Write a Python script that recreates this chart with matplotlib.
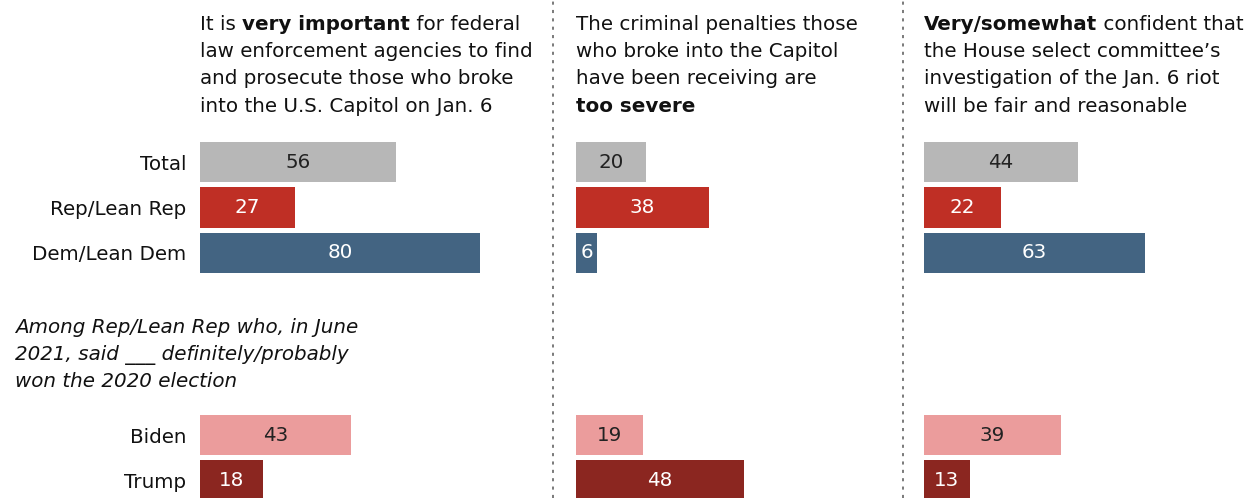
import numpy as np
import matplotlib
matplotlib.use("Agg")
import matplotlib.pyplot as plt

plt.rcParams['font.family'] = ['DejaVu Sans']

# data
groups = ["Total", "Rep/Lean Rep", "Dem/Lean Dem", "Biden", "Trump"]
rows = [0, 1, 2, 6, 7]
important = [56, 27, 80, 43, 18]
too_severe = [20, 38, 6, 19, 48]
confident = [44, 22, 63, 39, 13]
colors = ["#b7b7b7", "#bf2f25", "#436482", "#eb9c9c", "#8b2620"]
label_colors = ["#222222", "white", "white", "#222222", "white"]

headers = [
    [[("It is ", "normal"), ("very important", "bold"), (" for federal", "normal")],
     [("law enforcement agencies to find", "normal")],
     [("and prosecute those who broke", "normal")],
     [("into the U.S. Capitol on Jan. 6", "normal")]],
    [[("The criminal penalties those", "normal")],
     [("who broke into the Capitol", "normal")],
     [("have been receiving are", "normal")],
     [("too severe", "bold")]],
    [[("Very/somewhat", "bold"), (" confident that", "normal")],
     [("the House select committee\u2019s", "normal")],
     [("investigation of the Jan. 6 riot", "normal")],
     [("will be fair and reasonable", "normal")]],
]
note = ["Among Rep/Lean Rep who, in June",
        "2021, said ___ definitely/probably",
        "won the 2020 election"]

W, H = 1248, 498
fig = plt.figure(figsize=(W / 100, H / 100), dpi=100)

FS = 14.3
px_per_unit = 3.5
row_px = 45.5
first_row_px = 162
r_top = -first_row_px / row_px
r_bot = (H - first_row_px) / row_px

panel_left = [200, 576, 924]
xmax = 90
series = [important, too_severe, confident]


def header(ax, lines):
    y0 = 1 - 29.5 / H
    for i, line in enumerate(lines):
        y = y0 - i * 27.5 / H
        prev = None
        for txt, wt in line:
            if prev is None:
                prev = ax.text(0, y, txt, transform=ax.transAxes, fontsize=FS,
                               fontweight=wt, ha="left", va="baseline", color="#111111")
            else:
                prev = ax.annotate(txt, xy=(1, 0), xycoords=prev, fontsize=FS,
                                   fontweight=wt, ha="left", va="bottom", color="#111111")


for k, vals in enumerate(series):
    ax = fig.add_axes([panel_left[k] / W, 0, xmax * px_per_unit / W, 1])
    ax.barh(rows, vals, height=0.9, color=colors)
    for r, v, c in zip(rows, vals, label_colors):
        ax.text(v / 2, r, str(v), ha="center", va="center", fontsize=FS, color=c)
    ax.set_xlim(0, xmax)
    ax.set_ylim(r_bot, r_top)
    ax.set_xticks([])
    if k == 0:
        ax.set_yticks(rows)
        ax.set_yticklabels(groups, fontsize=FS, color="#111111")
        ax.tick_params(axis="y", length=0, pad=10)
    else:
        ax.set_yticks([])
    for s in ax.spines.values():
        s.set_visible(False)
    ax.patch.set_alpha(0)
    header(ax, headers[k])

# dashed separators
for xs in [553, 903]:
    fig.add_artist(plt.Line2D([xs / W, xs / W], [0, 1], color="#7a7a7a", lw=1.4,
                              linestyle=(0, (1.6, 2.7))))

for i, line in enumerate(note):
    fig.text(15 / W, 1 - (333 + 27 * i) / H, line, fontsize=FS, style="italic",
             ha="left", va="baseline", color="#111111")

fig.savefig("out.png", dpi=100)
